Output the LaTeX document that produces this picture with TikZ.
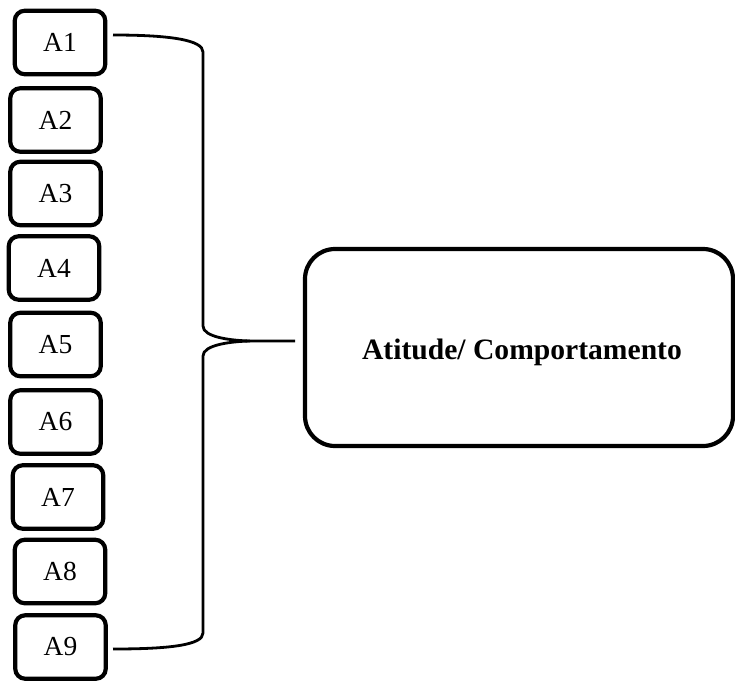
\documentclass[tikz,border=0pt]{standalone}
\usepackage{fontspec}
\setmainfont{Liberation Serif}
\begin{document}
\begin{tikzpicture}[x=1pt,y=-1pt,
  itembox/.style={draw, line width=4.2pt, rounded corners=10pt,
    minimum width=90.5pt, minimum height=63.5pt, inner sep=0pt,
    font=\fontsize{27.5}{29}\selectfont},
  targetbox/.style={draw, line width=4.2pt, rounded corners=30pt,
    minimum width=428pt, minimum height=197pt, inner sep=0pt},
  bracket/.style={draw, line width=2.8pt}]
\useasboundingbox (0,0) rectangle (735,682);
% column of items
\node[itembox] (A1) at (60,42.5) {A1};
\node[itembox] (A2) at (55.5,120) {A2};
\node[itembox] (A3) at (55.5,193.5) {A3};
\node[itembox] (A4) at (54,268) {A4};
\node[itembox] (A5) at (55.5,344.5) {A5};
\node[itembox] (A6) at (55.5,422) {A6};
\node[itembox] (A7) at (58,497) {A7};
\node[itembox] (A8) at (60,571.5) {A8};
\node[itembox] (A9) at (60.5,647) {A9};
% grouped construct
\node[targetbox] (out) at (519,347.5) {};
\node[font=\bfseries\fontsize{29.6}{32}\selectfont] (lbl) at (522,352) {Atitude/ Comportamento};
% curly bracket joining the items to the construct
\coordinate (top) at (113,35);
\coordinate (bot) at (113,649);
\coordinate (tip) at (250,341);
\coordinate (tipend) at (295,341);
\draw[bracket] (top) .. controls (170,35) and (203,40) .. (203,52)
  -- (203,326) .. controls (203,337) and (230,340.5) .. (tip) -- (tipend);
\draw[bracket] (tip) .. controls (230,341.5) and (203,345) .. (203,356)
  -- (203,633) .. controls (203,645) and (170,649) .. (bot);
\end{tikzpicture}
\end{document}
